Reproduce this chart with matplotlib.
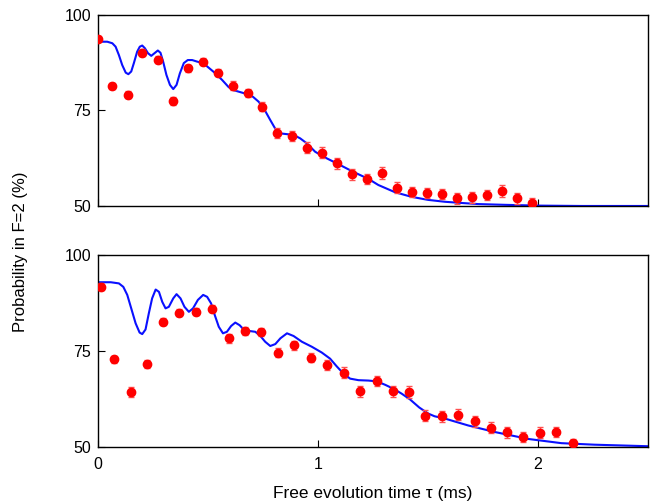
import numpy as np
import matplotlib
matplotlib.use('Agg')
import matplotlib.pyplot as plt

plt.rcParams['font.family'] = ['Liberation Sans', 'DejaVu Sans']

# top panel: measured points
t_top = [0.0, 0.065, 0.136, 0.201, 0.271, 0.340, 0.407, 0.476, 0.544, 0.612,
         0.680, 0.747, 0.815, 0.883, 0.951, 1.020, 1.087, 1.155, 1.223, 1.293,
         1.361, 1.429, 1.497, 1.565, 1.633, 1.701, 1.769, 1.837, 1.905, 1.973]
p_top = [93.6, 81.4, 79.1, 90.1, 88.3, 77.4, 86.0, 87.8, 84.9, 81.5,
         79.6, 76.0, 69.2, 68.3, 65.3, 64.0, 61.2, 58.3, 57.1, 58.6,
         54.8, 53.7, 53.4, 53.1, 52.0, 52.3, 52.9, 53.9, 52.0, 50.9]
e_top = [0.8, 0.9, 0.9, 0.9, 0.9, 1.0, 0.9, 0.9, 1.0, 1.1,
         1.1, 1.2, 1.3, 1.4, 1.5, 1.4, 1.4, 1.4, 1.4, 1.5,
         1.4, 1.4, 1.4, 1.4, 1.4, 1.4, 1.4, 1.5, 1.4, 1.2]

# top panel: theory curve
tc_top = [0.0, 0.042, 0.065, 0.080, 0.095, 0.110, 0.126, 0.138, 0.151, 0.163,
          0.178, 0.190, 0.201, 0.213, 0.227, 0.242, 0.257, 0.272, 0.284, 0.296,
          0.311, 0.327, 0.342, 0.357, 0.372, 0.390, 0.408, 0.428, 0.450, 0.478,
          0.503, 0.534, 0.564, 0.594, 0.617, 0.647, 0.677, 0.704, 0.730, 0.753,
          0.783, 0.806, 0.829, 0.859, 0.889, 0.919, 0.949, 0.987, 1.025, 1.063,
          1.101, 1.138, 1.184, 1.229, 1.274, 1.35, 1.425, 1.5, 1.577, 1.65,
          1.728, 1.85, 2.0, 2.2, 2.5]
pc_top = [93.0, 93.0, 92.6, 91.7, 89.5, 86.9, 84.9, 84.5, 85.2, 87.4,
          90.4, 91.7, 92.0, 91.3, 90.0, 89.3, 90.0, 90.7, 90.1, 87.8,
          84.3, 81.7, 80.6, 81.7, 84.7, 87.4, 88.2, 88.2, 87.8, 87.4,
          86.2, 84.7, 83.0, 81.1, 80.3, 79.8, 79.3, 78.6, 77.3, 75.6,
          72.5, 70.2, 69.0, 68.8, 68.6, 67.7, 66.4, 64.2, 62.9, 61.8,
          60.7, 59.6, 58.3, 57.1, 55.5, 53.6, 52.4, 51.6, 51.1, 50.8,
          50.5, 50.3, 50.1, 50.0, 50.0]

# bottom panel: measured points
t_bot = [0.012, 0.073, 0.148, 0.222, 0.296, 0.370, 0.444, 0.518, 0.594, 0.668,
         0.743, 0.818, 0.892, 0.966, 1.040, 1.116, 1.191, 1.267, 1.340, 1.413,
         1.488, 1.564, 1.638, 1.712, 1.786, 1.860, 1.934, 2.010, 2.084, 2.160]
p_bot = [91.7, 72.9, 64.3, 71.6, 82.6, 85.0, 85.2, 86.0, 78.3, 80.2,
         80.0, 74.6, 76.5, 73.3, 71.3, 69.3, 64.5, 67.2, 64.5, 64.3,
         58.2, 58.0, 58.4, 56.7, 55.0, 53.8, 52.6, 53.7, 53.9, 51.0]
e_bot = [0.9, 0.9, 1.2, 1.0, 0.9, 0.9, 0.9, 0.9, 1.1, 1.1,
         1.1, 1.2, 1.2, 1.2, 1.3, 1.4, 1.4, 1.4, 1.4, 1.5,
         1.5, 1.4, 1.5, 1.5, 1.4, 1.4, 1.4, 1.4, 1.4, 1.2]

# bottom panel: theory curve
tc_bot = [0.0, 0.058, 0.095, 0.115, 0.133, 0.151, 0.171, 0.189, 0.201, 0.216,
          0.231, 0.246, 0.262, 0.277, 0.292, 0.307, 0.322, 0.342, 0.357, 0.375,
          0.393, 0.413, 0.432, 0.454, 0.478, 0.496, 0.514, 0.531, 0.549, 0.568,
          0.586, 0.605, 0.624, 0.644, 0.665, 0.689, 0.715, 0.738, 0.760, 0.783,
          0.806, 0.829, 0.859, 0.889, 0.927, 0.972, 1.017, 1.055, 1.085, 1.116,
          1.146, 1.184, 1.229, 1.267, 1.305, 1.342, 1.380, 1.418, 1.46, 1.501,
          1.53, 1.577, 1.683, 1.804, 1.955, 2.106, 2.257, 2.5]
pc_bot = [92.9, 92.9, 92.6, 91.7, 89.6, 86.1, 82.2, 79.8, 79.4, 80.6,
          84.8, 88.7, 91.0, 90.4, 87.8, 86.1, 86.5, 88.7, 89.8, 88.7,
          86.5, 85.2, 86.1, 88.3, 89.6, 89.1, 87.4, 84.3, 81.3, 79.6,
          80.0, 81.5, 82.4, 81.7, 80.4, 80.2, 80.0, 78.9, 77.4, 76.3,
          76.8, 78.3, 79.6, 78.9, 77.4, 76.1, 74.6, 73.0, 71.0, 69.1,
          67.8, 67.4, 67.3, 67.1, 66.2, 65.2, 63.9, 62.4, 60.3, 58.7,
          58.0, 57.4, 55.6, 53.9, 52.1, 51.0, 50.6, 50.2]

fig = plt.figure(figsize=(6.56, 5.04), dpi=100)
ax1 = fig.add_axes([0.1494, 0.5913, 0.8384, 0.3790])
ax2 = fig.add_axes([0.1494, 0.1131, 0.8384, 0.3810])

for ax, t, p, e, tc, pc in [(ax1, t_top, p_top, e_top, tc_top, pc_top),
                            (ax2, t_bot, p_bot, e_bot, tc_bot, pc_bot)]:
    ax.plot(tc, pc, '-', color='#0a10ff', lw=1.5, zorder=2)
    ax.errorbar(t, p, yerr=e, fmt='none', ecolor='#ff5050', elinewidth=1.0,
                capsize=2.5, capthick=1.0, zorder=3)
    ax.plot(t, p, 'o', color='#ff0000', ms=6, mec='#ff0000', zorder=4)
    ax.set_xlim(0, 2.5)
    ax.set_ylim(50, 100)
    ax.set_xticks([0, 1, 2])
    ax.set_yticks([50, 75, 100])
    ax.tick_params(direction='in', length=5, width=0.8, labelsize=11.5,
                   top=False, right=False)
    ax.tick_params(axis='x', pad=7)
    ax.tick_params(axis='y', pad=5)
    for s in ax.spines.values():
        s.set_linewidth(1.0)

ax1.set_xticklabels([])
ax2.set_xlabel('Free evolution time τ (ms)', fontsize=12.5, labelpad=10)
fig.text(0.032, 0.5, 'Probability in F=2 (%)', rotation=90, fontsize=12,
         ha='center', va='center')

fig.savefig('out.png', dpi=100)
